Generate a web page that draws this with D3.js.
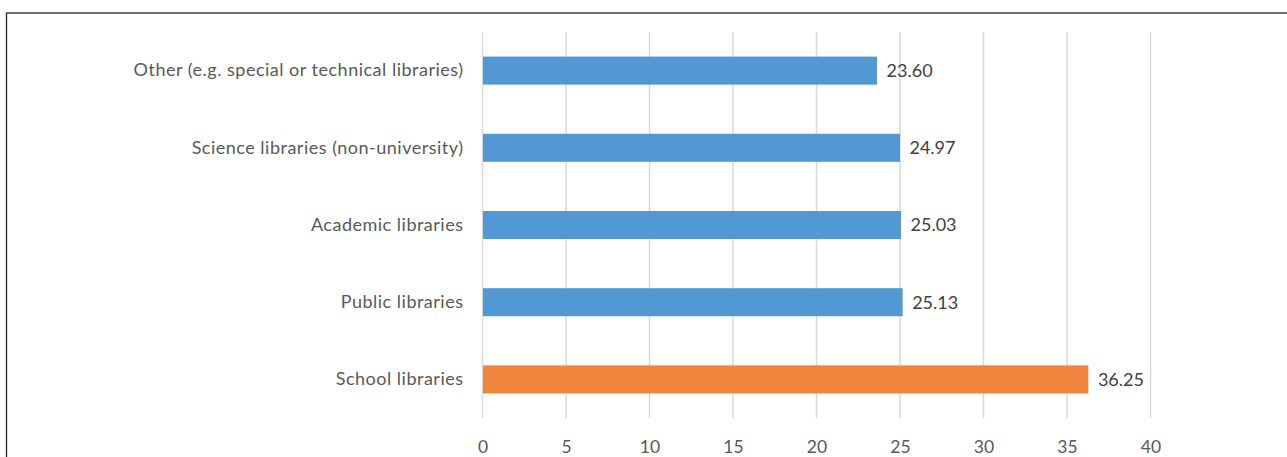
<!DOCTYPE html>
<html>
<head>
<meta charset="utf-8">
<script src="https://cdn.jsdelivr.net/npm/d3@7"></script>
<style>
  body { margin: 0; background: #fff; }
  svg { display: block; }
</style>
</head>
<body>
<div id="container"></div>
<script>
const categories = ["Other (e.g. special or technical libraries)", "Science libraries (non-university)", "Academic libraries", "Public libraries", "School libraries"]
const values = [23.60, 24.97, 25.03, 25.13, 36.25]
const barColors = ["#5299D3", "#5299D3", "#5299D3", "#5299D3", "#F0843D"]
const xTicks = [0, 5, 10, 15, 20, 25, 30, 35, 40]

const width = 1287
const height = 457
const margin = {top: 32, bottom: 39, left: 482.5, right: 136.5}
const font = "Lato, 'Open Sans', sans-serif"

const svg = d3.create("svg")
    .attr("width", width)
    .attr("height", height)

// outer chart border (cropped at right/bottom)
svg.append("rect")
    .attr("x", 6.5)
    .attr("y", 13)
    .attr("width", 1290)
    .attr("height", 460)
    .attr("fill", "none")
    .attr("stroke", "#262626")
    .attr("stroke-width", 1.3)

const x = d3.scaleLinear()
    .domain([0, 40])
    .range([margin.left, width - margin.right])

const y = d3.scaleBand()
    .domain(categories)
    .range([margin.top, height - margin.bottom])
    .paddingInner(0.637)
    .paddingOuter(0.3185)

// gridlines
svg.append("g")
    .selectAll("line")
    .data(xTicks)
    .join("line")
    .attr("x1", d => x(d))
    .attr("x2", d => x(d))
    .attr("y1", margin.top)
    .attr("y2", height - margin.bottom)
    .attr("stroke", "#D9D9D9")
    .attr("stroke-width", 1.5)

// x axis
const xAxis = svg.append("g")
    .attr("transform", `translate(0, ${height - margin.bottom})`)
    .call(d3.axisBottom(x).tickValues(xTicks).tickSize(0).tickPadding(23))
xAxis.select(".domain").remove()
xAxis.selectAll("text")
    .attr("fill", "#595959")
    .style("font-family", font)
    .style("font-size", "17.5px")

// y axis
const yAxis = svg.append("g")
    .attr("transform", `translate(${margin.left}, 0)`)
    .call(d3.axisLeft(y).tickSize(0).tickPadding(19))
yAxis.select(".domain").remove()
yAxis.selectAll("text")
    .attr("fill", "#595959")
    .style("font-family", font)
    .style("font-size", "18px")
    .style("letter-spacing", "0.5px")

// bars
svg.append("g")
    .selectAll("rect")
    .data(values)
    .join("rect")
    .attr("x", x(0) + 0.5)
    .attr("y", (d, i) => y(categories[i]))
    .attr("width", d => x(d) - x(0))
    .attr("height", y.bandwidth())
    .attr("fill", (d, i) => barColors[i])

// value labels
svg.append("g")
    .selectAll("text")
    .data(values)
    .join("text")
    .attr("x", d => x(d) + 10)
    .attr("y", (d, i) => y(categories[i]) + y.bandwidth() / 2)
    .attr("dy", "0.35em")
    .attr("fill", "#404040")
    .style("font-family", font)
    .style("font-size", "18px")
    .text(d => d.toFixed(2))

document.querySelector("#container").appendChild(svg.node())
</script>
</body>
</html>
